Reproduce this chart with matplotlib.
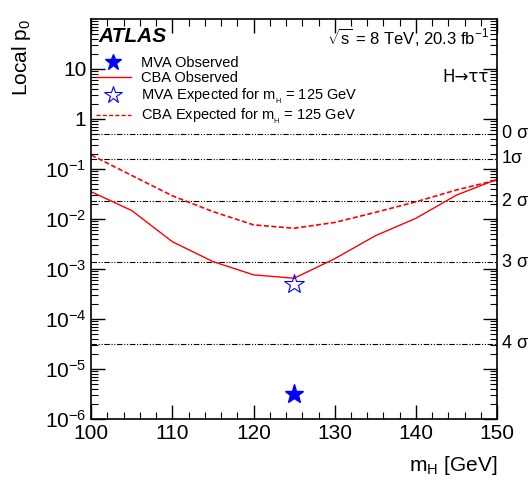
import numpy as np
import matplotlib.pyplot as plt
from matplotlib.lines import Line2D
from matplotlib.ticker import FixedLocator, LogLocator, NullFormatter, MultipleLocator

plt.rcParams['font.family'] = ['Liberation Sans', 'DejaVu Sans']
plt.rcParams['mathtext.fontset'] = 'custom'
plt.rcParams['mathtext.rm'] = 'Liberation Sans'
plt.rcParams['mathtext.it'] = 'Liberation Sans:italic'

# data
mass = [100, 105, 110, 115, 120, 125, 130, 135, 140, 145, 150]
cba_obs = [0.035, 0.0147, 0.0035, 0.0014, 7.6e-4, 6.5e-4, 1.6e-3, 4.6e-3, 0.0103, 0.030, 0.062]
cba_exp = [0.19, 0.074, 0.029, 0.014, 0.0076, 0.0065, 0.0085, 0.0135, 0.022, 0.038, 0.060]
mva_mass = 125
mva_obs = 3.2e-6
mva_exp = 5.0e-4
sigma_p = [0.5, 0.1587, 0.02275, 0.00135, 3.17e-5]
sigma_lbl = ['0 σ', '1σ', '2 σ', '3 σ', '4 σ']

fig = plt.figure(figsize=(5.30, 4.87), dpi=100)
ax = fig.add_axes([0.172, 0.140, 0.766, 0.821])
ax.set_xlim(100, 150)
ax.set_ylim(1e-6, 1e2)
ax.set_yscale('log')

for p, lbl in zip(sigma_p, sigma_lbl):
    ax.axhline(p, color='black', lw=0.8, ls=(0, (5, 1.5, 1, 1.5, 1, 1.5)))
    ax.text(150.6, p, lbl, fontsize=13, va='center', ha='left')

ax.plot(mass, cba_obs, color='red', lw=1.0)
ax.plot(mass, cba_exp, color='red', lw=1.2, ls=(0, (3, 1.5)))
ax.plot([mva_mass], [mva_obs], marker='*', color='blue', ms=14, ls='none', mec='blue')
ax.plot([mva_mass], [mva_exp], marker='*', color='blue', ms=15, ls='none', mfc='none', mew=0.8)

# axes styling
ax.tick_params(which='both', direction='in', top=True, right=True, labelsize=15)
ax.tick_params(which='major', length=10, width=1)
ax.tick_params(which='minor', length=5, width=0.8)
ax.xaxis.set_major_locator(MultipleLocator(10))
ax.xaxis.set_minor_locator(MultipleLocator(2))
ax.yaxis.set_major_locator(FixedLocator([1e-6, 1e-5, 1e-4, 1e-3, 1e-2, 1e-1, 1, 10]))
ax.yaxis.set_minor_locator(LogLocator(base=10, subs=np.arange(2, 10)))
ax.yaxis.set_minor_formatter(NullFormatter())
ax.set_yticklabels(['$10^{-6}$', '$10^{-5}$', '$10^{-4}$', '$10^{-3}$', '$10^{-2}$',
                    '$10^{-1}$', '1', '10'])
ax.tick_params(axis='x', pad=4)
for s in ax.spines.values():
    s.set_linewidth(1.2)

ax.set_xlabel('m$_{\\mathrm{H}}$ [GeV]', fontsize=15, loc='right', labelpad=8)
ax.set_ylabel('Local p$_{0}$', fontsize=15, loc='top', labelpad=8)

ax.text(0.018, 0.955, 'ATLAS', transform=ax.transAxes, fontsize=15,
        fontweight='bold', fontstyle='italic', va='center')
ax.text(0.98, 0.955, '$\\sqrt{\\mathrm{s}}$ = 8 TeV, 20.3 fb$^{-1}$', transform=ax.transAxes,
        fontsize=12, ha='right', va='center')
ax.text(0.98, 0.855, 'H→ττ', transform=ax.transAxes, fontsize=12, ha='right', va='center',
        family=['DejaVu Sans'])

handles = [
    Line2D([], [], marker='*', color='blue', ms=12, ls='none'),
    Line2D([], [], color='red', lw=1.0),
    Line2D([], [], marker='*', color='blue', ms=13, ls='none', mfc='none', mew=0.8),
    Line2D([], [], color='red', lw=1.0, ls=(0, (3, 1.5))),
]
labels = ['MVA Observed', 'CBA Observed', 'MVA Expected for m$_{_\\mathrm{H}}$ = 125 GeV',
          'CBA Expected for m$_{_\\mathrm{H}}$ = 125 GeV']
ax.legend(handles, labels, loc='upper left', bbox_to_anchor=(-0.01, 0.93), frameon=False,
          fontsize=10.5, handlelength=2.4, handletextpad=0.7, labelspacing=0.1,
          borderaxespad=0.2)

fig.savefig('out.png', dpi=100)
